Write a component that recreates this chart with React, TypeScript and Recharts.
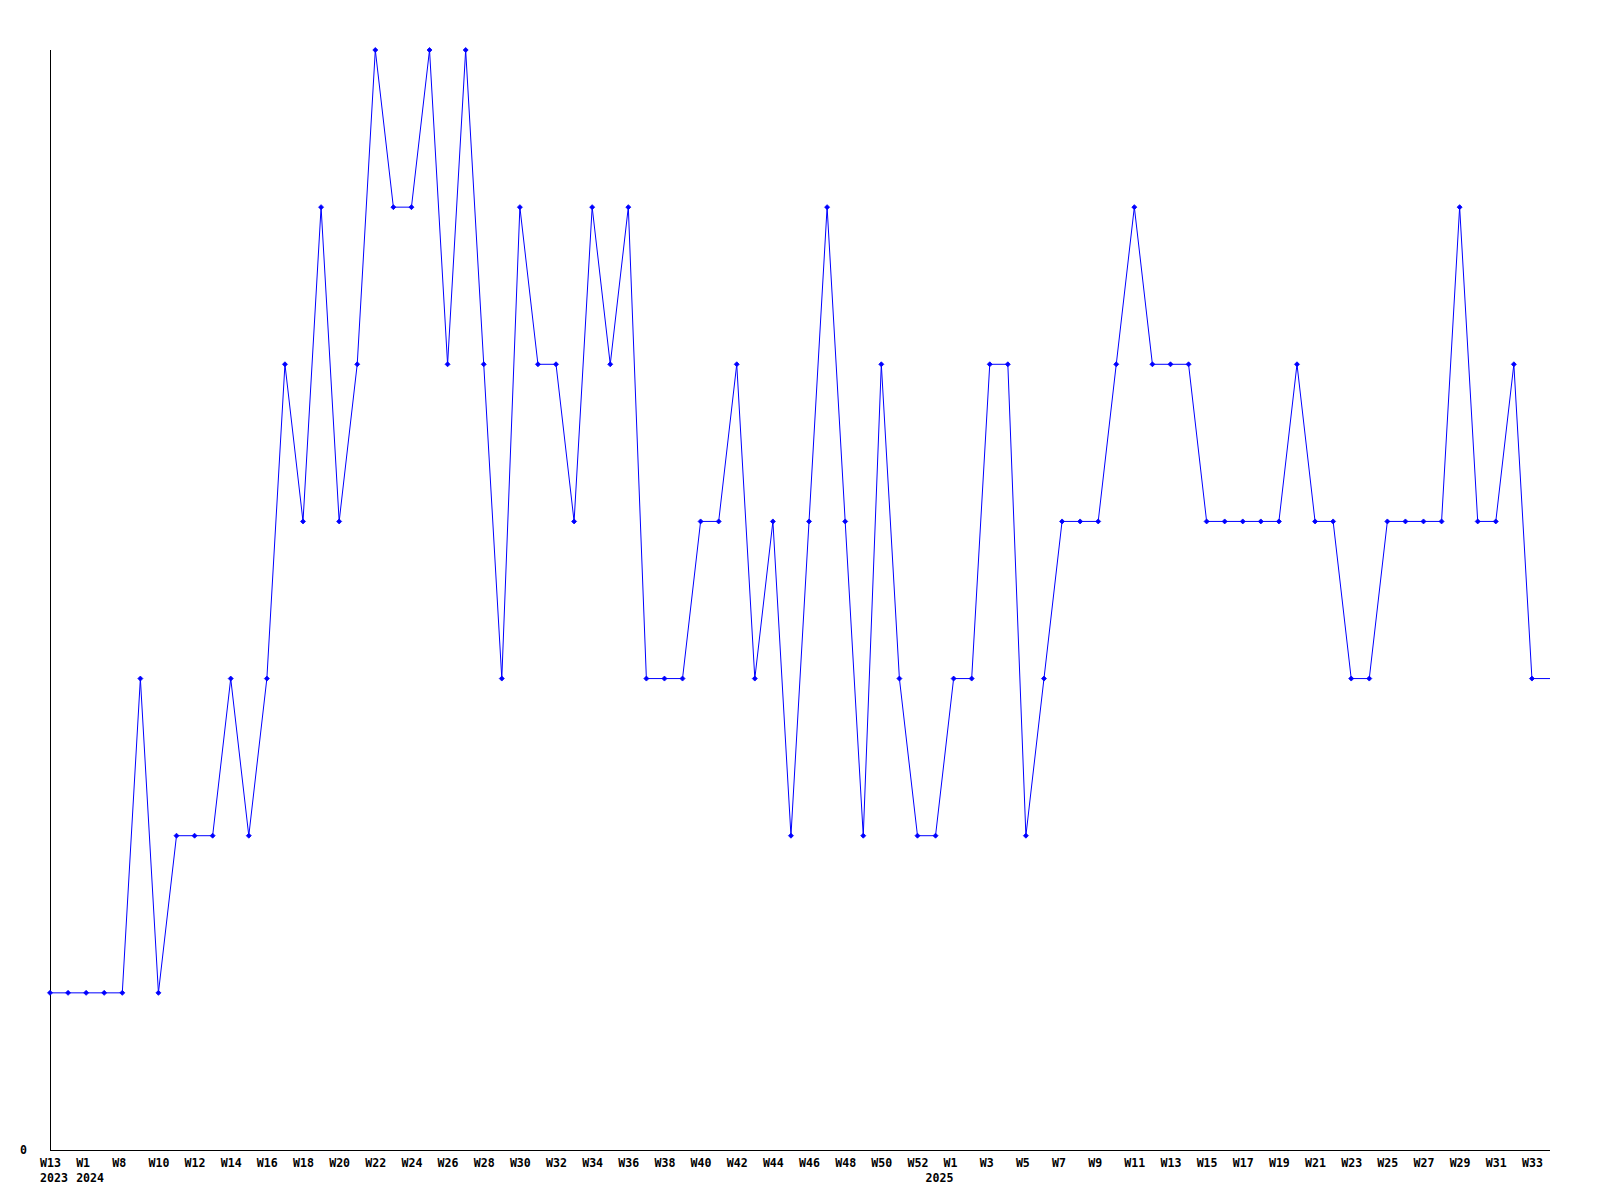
import React from "react";
import { LineChart, Line, XAxis, YAxis } from "recharts";

// Weekly periods (year-week); only every second week label is printed on the axis
const periods: string[] = [
  "2023-W13", "2023-W52", "2024-W1", "2024-W5", "2024-W8", "2024-W9", "2024-W10", "2024-W11", "2024-W12", "2024-W13",
  "2024-W14", "2024-W15", "2024-W16", "2024-W17", "2024-W18", "2024-W19", "2024-W20", "2024-W21", "2024-W22", "2024-W23",
  "2024-W24", "2024-W25", "2024-W26", "2024-W27", "2024-W28", "2024-W29", "2024-W30", "2024-W31", "2024-W32", "2024-W33",
  "2024-W34", "2024-W35", "2024-W36", "2024-W37", "2024-W38", "2024-W39", "2024-W40", "2024-W41", "2024-W42", "2024-W43",
  "2024-W44", "2024-W45", "2024-W46", "2024-W47", "2024-W48", "2024-W49", "2024-W50", "2024-W51", "2024-W52", "2025-W0",
  "2025-W1", "2025-W2", "2025-W3", "2025-W4", "2025-W5", "2025-W6", "2025-W7", "2025-W8", "2025-W9", "2025-W10",
  "2025-W11", "2025-W12", "2025-W13", "2025-W14", "2025-W15", "2025-W16", "2025-W17", "2025-W18", "2025-W19", "2025-W20",
  "2025-W21", "2025-W22", "2025-W23", "2025-W24", "2025-W25", "2025-W26", "2025-W27", "2025-W28", "2025-W29", "2025-W30",
  "2025-W31", "2025-W32", "2025-W33", "2025-W34",
];

const counts: number[] = [
  1, 1, 1, 1, 1, 3, 1, 2, 2, 2,
  3, 2, 3, 5, 4, 6, 4, 5, 7, 6,
  6, 7, 5, 7, 5, 3, 6, 5, 5, 4,
  6, 5, 6, 3, 3, 3, 4, 4, 5, 3,
  4, 2, 4, 6, 4, 2, 5, 3, 2, 2,
  3, 3, 5, 5, 2, 3, 4, 4, 4, 5,
  6, 5, 5, 5, 4, 4, 4, 4, 4, 5,
  4, 4, 3, 3, 4, 4, 4, 4, 6, 4,
  4, 5, 3, 3,
];

const yTicks: number[] = [0];
const yDomain: [number, number] = [0, 7];

const data = periods.map((p, i) => ({ period: p, value: counts[i] }));

const FONT = "'DejaVu Sans Mono', 'Liberation Mono', monospace";
const BLUE = "#0000ff";

function XTick(props: any) {
  const { x, y, payload, index } = props;
  const [year, week] = String(payload.value).split("-");
  const prev = index > 0 ? periods[index - 1].split("-")[0] : "";
  const showWeek = index % 2 === 0;
  const showYear = year !== prev;
  return (
    <g>
      {showWeek && (
        <text x={x - 10} y={y + 17} textAnchor="start" fontFamily={FONT} fontWeight="bold" fontSize={11.6} fill="#000">
          {week}
        </text>
      )}
      {showYear && (
        <text x={x - 10} y={y + 32} textAnchor="start" fontFamily={FONT} fontWeight="bold" fontSize={11.6} fill="#000">
          {year}
        </text>
      )}
    </g>
  );
}

function YTick(props: any) {
  const { x, y, payload } = props;
  return (
    <text x={x - 30} y={y + 4} textAnchor="start" fontFamily={FONT} fontWeight="bold" fontSize={11.6} fill="#000">
      {payload.value}
    </text>
  );
}

function Marker(props: any) {
  const { cx, cy, index } = props;
  if (index === data.length - 1 || cx == null || cy == null) return <g key={`m${index}`} />;
  const r = 2.5;
  return (
    <path
      key={`m${index}`}
      d={`M${cx},${cy - r} L${cx + r},${cy} L${cx},${cy + r} L${cx - r},${cy} Z`}
      fill={BLUE}
      stroke={BLUE}
      strokeWidth={0.8}
    />
  );
}

export default function App() {
  return (
    <div style={{ position: "absolute", left: 0, top: 0, width: 1600, height: 1200, background: "#fff" }}>
      <LineChart width={1600} height={1200} data={data} margin={{ top: 50, right: 50, bottom: 0, left: 0 }}>
        <XAxis
          dataKey="period"
          type="category"
          scale="point"
          padding={{ left: 0, right: 0 }}
          interval={0}
          tickLine={false}
          tickSize={0}
          tickMargin={0}
          axisLine={{ stroke: "#000", strokeWidth: 1, shapeRendering: "crispEdges" }}
          tick={<XTick />}
          height={50}
        />
        <YAxis
          type="number"
          domain={yDomain}
          ticks={yTicks}
          tickLine={false}
          tickSize={0}
          tickMargin={0}
          axisLine={{ stroke: "#000", strokeWidth: 1, shapeRendering: "crispEdges" }}
          tick={<YTick />}
          width={50}
        />
        <Line
          type="linear"
          dataKey="value"
          stroke={BLUE}
          strokeWidth={1}
          dot={<Marker />}
          activeDot={false}
          isAnimationActive={false}
        />
      </LineChart>
    </div>
  );
}
